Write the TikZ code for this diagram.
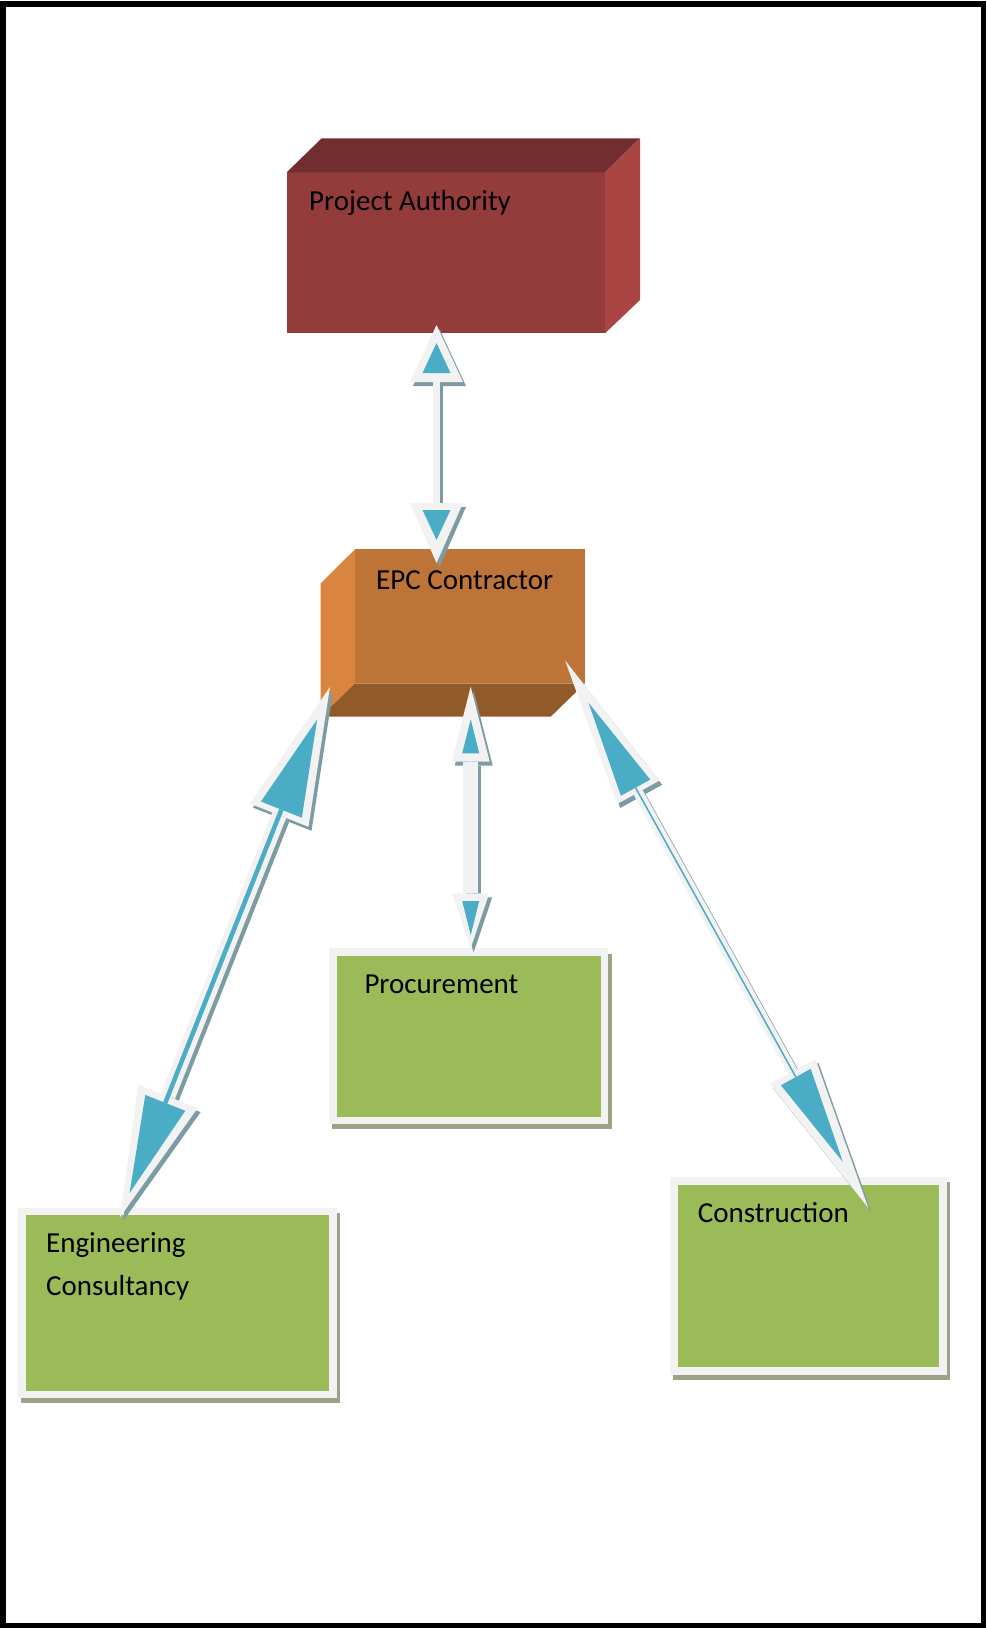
\documentclass[tikz,border=0pt]{standalone}
\usepackage{fontspec}
\setmainfont{Carlito}
\usetikzlibrary{arrows.meta,calc}

% palette
\definecolor{paFront}{HTML}{943C3B}
\definecolor{paTop}{HTML}{722E2E}
\definecolor{paSide}{HTML}{A94543}
\definecolor{epcFront}{HTML}{BE7436}
\definecolor{epcSide}{HTML}{DA853F}
\definecolor{epcBottom}{HTML}{925A29}
\definecolor{leaf}{HTML}{9BBB59}
\definecolor{leafShadow}{HTML}{9AA388}
\definecolor{haloc}{HTML}{F2F2F2}
\definecolor{ablue}{HTML}{4BACC6}
\definecolor{arrowShadow}{HTML}{7D9BA3}

\begin{document}
\begin{tikzpicture}[x=1pt,y=-1pt,
  lbl/.style={font=\fontsize{29}{42.3}\selectfont, inner sep=0pt, anchor=base west, text=black},
  face/.style={inner sep=0pt, outer sep=0pt, draw=none},
  card/.style={draw=haloc, line width=7.5pt, fill=leaf, inner sep=0pt, outer sep=0pt},
  halo/.style={draw=haloc, line width=#1},
  haloshadow/.style={draw=arrowShadow, line width=#1, transform canvas={shift={(3pt,-4pt)}}},
]
\useasboundingbox (0,0) rectangle (986,1628);

% page frame
\draw[line width=5.5pt] (3,4) rectangle (983.5,1625.5);

% ---- Project Authority block (front, top and right faces)
\node[face, fill=paFront, minimum width=318.3pt, minimum height=161pt] (pa) at (445.85,252.8) {};
\fill[paTop] (pa.north west) -- ++(35,-34) -- ++(318.3,0) -- (pa.north east) -- cycle;
\fill[paSide] (pa.north east) -- ++(35,-34) -- ++(0,161.7) -- (pa.south east) -- cycle;
\node[lbl] (paText) at (309,210.7) {Project Authority};

% ---- EPC Contractor block (front, left and bottom faces)
\node[face, fill=epcFront, minimum width=230pt, minimum height=134pt] (epc) at (470,616.3) {};
\fill[epcSide] (epc.north west) -- ++(-34.3,34) -- ++(0,133.4) -- (epc.south west) -- cycle;
\fill[epcBottom] (epc.south west) -- ++(-34.3,33.4) -- ++(230,0) -- (epc.south east) -- cycle;
\node[lbl] (epcText) at (376,589.3) {EPC Contractor};

% ---- green cards with their drop shadows
\fill[leafShadow] (21.3,1212.7) rectangle (340,1403.3);
\node[card, minimum width=310.8pt, minimum height=183.2pt] (eng) at (177.6,1302.9) {};
\node[lbl] (engText) at (46,1252.7)
  {\vtop{\baselineskip=42.3pt \hbox{Engineering}\hbox{Consultancy}}};

\fill[leafShadow] (332.4,953.6) rectangle (611.7,1129.3);
\node[card, minimum width=271.3pt, minimum height=168.2pt] (proc) at (468.85,1036.3) {};
\node[lbl] (procText) at (364.3,993.3) {Procurement};

\fill[leafShadow] (673.3,1182.3) rectangle (950,1380);
\node[card, minimum width=269pt, minimum height=190pt] (cons) at (808.3,1276.2) {};
\node[lbl] (consText) at (697.7,1222.7) {Construction};

% ---- connector end points
\coordinate (aTop)   at (436.5,325);
\coordinate (aEpcT)  at (436.5,563);
\coordinate (bEpc)   at (470.7,686.7);
\coordinate (bProc)  at (470.7,948.3);
\coordinate (cEpc)   at (330,686.9);
\coordinate (cEng)   at (120,1217.2);
\coordinate (dEpc)   at (565,660.3);
\coordinate (dCons)  at (868.3,1207.9);

% ---- Project Authority <-> EPC Contractor
\draw[haloshadow=7.3pt, arrows={Triangle[length=57pt,width=53pt,line width=0pt]-Triangle[length=60pt,width=53pt,line width=0pt]}] (aTop) -- (aEpcT);
\draw[halo=7.3pt, arrows={Triangle[length=57pt,width=53pt,line width=0pt]-Triangle[length=60pt,width=53pt,line width=0pt]}] (aTop) -- (aEpcT);
\draw[draw=haloc, line width=1pt, shorten <=18pt, shorten >=23pt,
  arrows={Triangle[length=30pt,width=28pt,line width=0pt,color=ablue]-Triangle[length=30pt,width=28pt,line width=0pt,color=ablue]}] (aTop) -- (aEpcT);

% ---- EPC Contractor <-> Procurement
\draw[haloshadow=15pt, arrows={Triangle[length=75pt,width=38pt,line width=0pt]-Triangle[length=55pt,width=37pt,line width=0pt]}] (bEpc) -- (bProc);
\draw[halo=15pt, arrows={Triangle[length=75pt,width=38pt,line width=0pt]-Triangle[length=55pt,width=37pt,line width=0pt]}] (bEpc) -- (bProc);
\draw[draw=haloc, line width=1pt, shorten <=32.6pt, shorten >=13.3pt,
  arrows={Triangle[length=34pt,width=17pt,line width=0pt,color=ablue]-Triangle[length=34pt,width=17pt,line width=0pt,color=ablue]}] (bEpc) -- (bProc);

% ---- EPC Contractor <-> Engineering Consultancy
\draw[haloshadow=15pt, arrows={Triangle[length=138pt,width=63pt,line width=0pt]-Triangle[length=130pt,width=64pt,line width=0pt]}] (cEpc) -- (cEng);
\draw[halo=15pt, arrows={Triangle[length=138pt,width=63pt,line width=0pt]-Triangle[length=130pt,width=64pt,line width=0pt]}] (cEpc) -- (cEng);
\draw[draw=ablue, line width=4.5pt, shorten <=35pt, shorten >=26pt,
  arrows={Triangle[length=97pt,width=44pt,line width=0pt]-Triangle[length=97pt,width=43pt,line width=0pt]}] (cEpc) -- (cEng);

% ---- EPC Contractor <-> Construction
\draw[haloshadow=10pt, arrows={Triangle[length=151pt,width=48pt,line width=0pt]-Triangle[length=156pt,width=52pt,line width=0pt]}] (dEpc) -- (dCons);
\draw[halo=10pt, arrows={Triangle[length=151pt,width=48pt,line width=0pt]-Triangle[length=156pt,width=52pt,line width=0pt]}] (dEpc) -- (dCons);
\draw[draw=ablue, line width=1.5pt, shorten <=48.6pt, shorten >=52.6pt,
  arrows={Triangle[length=97pt,width=33.5pt,line width=0pt]-Triangle[length=97pt,width=34pt,line width=0pt]}] (dEpc) -- (dCons);
\end{tikzpicture}
\end{document}
